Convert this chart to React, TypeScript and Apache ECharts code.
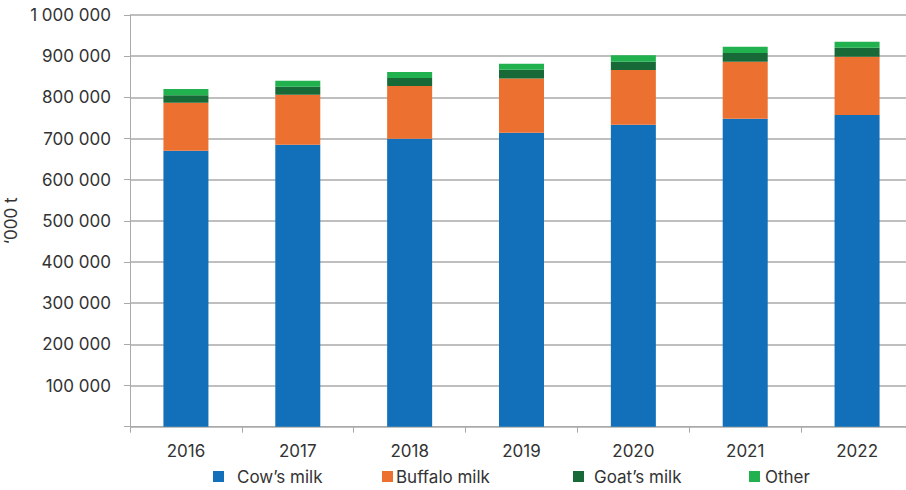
import React, { useEffect, useRef } from "react";
import * as echarts from "echarts";

const years = ["2016", "2017", "2018", "2019", "2020", "2021", "2022"];
const cowMilk = [670000, 685000, 699500, 714000, 733500, 748000, 757000];
const buffaloMilk = [117000, 121000, 128000, 132000, 133000, 138600, 141500];
const goatMilk = [18000, 19500, 19500, 21000, 20000, 21000, 22000];
const otherMilk = [15000, 14500, 14500, 14700, 16000, 15400, 14500];

const seriesNames = ["Cow’s milk", "Buffalo milk", "Goat’s milk", "Other"];
const seriesColors = ["#1170B9", "#EC7030", "#176A37", "#21B24F"];
const seriesData = [cowMilk, buffaloMilk, goatMilk, otherMilk];

const FONT = "Inter";

function fmt(v: number): string {
  if (v === 0) return "";
  return String(v).replace(/\B(?=(\d{3})+(?!\d))/g, " ");
}

export default function App() {
  const ref = useRef<HTMLDivElement>(null);
  useEffect(() => {
    if (!ref.current) return;
    const chart = echarts.init(ref.current, undefined, { renderer: "svg" });
    const legendPos = [
      { left: 213, pad: 8 },
      { left: 382, pad: -2 },
      { left: 573, pad: 5 },
      { left: 749, pad: 0 },
    ];
    chart.setOption({
      animation: false,
      textStyle: { fontFamily: FONT },
      grid: {
        left: 130,
        top: 15,
        width: 783,
        height: 411.7,
        containLabel: false,
        outerBoundsMode: "none",
      },
      legend: seriesNames.map((n, i) => ({
        data: [n],
        left: legendPos[i].left,
        top: 468,
        padding: 0,
        itemWidth: 11,
        itemHeight: 11,
        icon: "rect",
        textStyle: {
          fontSize: 17,
          color: "#333333",
          fontFamily: FONT,
          padding: [0, 0, 0, legendPos[i].pad],
        },
      })),
      xAxis: {
        type: "category",
        data: years,
        boundaryGap: true,
        axisLine: { show: true, lineStyle: { color: "#aaaaaa", width: 1 } },
        axisTick: { show: true, length: 6, alignWithLabel: false, lineStyle: { color: "#aaaaaa" } },
        axisLabel: { fontSize: 17, color: "#333333", margin: 16, fontFamily: FONT },
        splitLine: { show: false },
      },
      yAxis: {
        type: "value",
        min: 0,
        max: 1000000,
        interval: 100000,
        name: "‘000 t",
        nameLocation: "middle",
        nameGap: 104,
        nameRotate: 90,
        nameTextStyle: { fontSize: 17, color: "#333333", fontFamily: FONT },
        axisLine: { show: true, lineStyle: { color: "#aaaaaa", width: 1 } },
        axisTick: { show: true, length: 6, lineStyle: { color: "#aaaaaa" } },
        axisLabel: {
          fontSize: 17,
          color: "#333333",
          margin: 19,
          fontFamily: FONT,
          formatter: (v: number) => fmt(v),
        },
        splitLine: { show: true, lineStyle: { color: "#aaaaaa", width: 1.5 } },
      },
      series: seriesNames.map((n, i) => ({
        name: n,
        type: "bar",
        stack: "total",
        barWidth: 45,
        data: seriesData[i],
        itemStyle: { color: seriesColors[i] },
      })),
    });
    return () => chart.dispose();
  }, []);
  return (
    <div
      ref={ref}
      style={{ position: "fixed", left: 0, top: 0, width: 906, height: 490, background: "#ffffff" }}
    />
  );
}
